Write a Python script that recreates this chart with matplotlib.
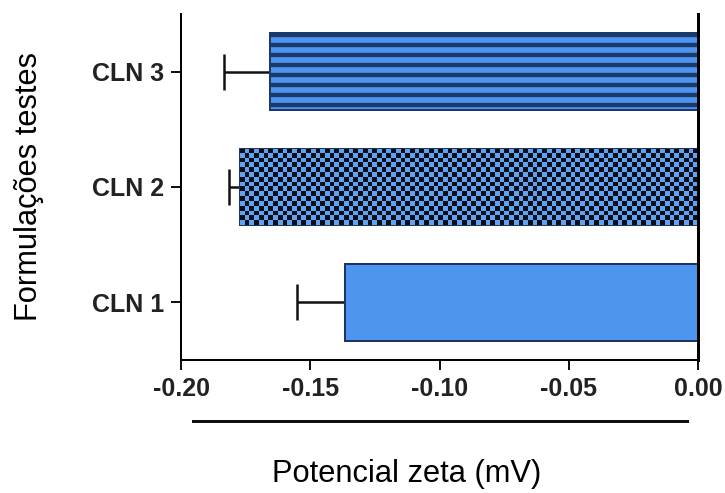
# Potencial zeta das formulações CLN (barras horizontais com erro)

import numpy as np
import matplotlib
matplotlib.use('Agg')
import matplotlib.pyplot as plt

categorias = ['CLN 1', 'CLN 2', 'CLN 3']
zeta = [-0.1364, -0.1771, -0.1655]      # mV
erro = [0.0186, 0.0043, 0.0178]
x_ticks = [-0.20, -0.15, -0.10, -0.05, 0.00]

plt.rcParams['font.family'] = ['Liberation Sans', 'DejaVu Sans']
plt.rcParams['hatch.linewidth'] = 2.6

azul = '#4d95ef'
borda = '#1e3560'

fig = plt.figure(figsize=(725 / 120, 493 / 120), dpi=120)
ax = fig.add_axes([0.2497, 0.2698, 0.7131, 0.7018])

y = np.arange(1, len(categorias) + 1)

# barras de erro so para o lado negativo
ax.errorbar(zeta, y, xerr=[erro, [0] * len(erro)], fmt='none', ecolor='#111111',
            elinewidth=1.5, capsize=11, capthick=1.5, zorder=2)

bars = ax.barh(y, zeta, height=0.667, color=azul, edgecolor=borda, linewidth=1.2, zorder=3)

# CLN 3 - listras horizontais
bars[2].set_hatch('--')
bars[2].set_edgecolor('#1b3a6b')

# CLN 2 - xadrez
b = bars[1]
nx, ny = 97, 16
xadrez = (np.indices((ny, nx)).sum(axis=0) % 2)
cmap = matplotlib.colors.ListedColormap(['#0b0d18', '#5ea2f2'])
im = ax.imshow(xadrez, cmap=cmap, aspect='auto', interpolation='nearest',
               extent=[b.get_x(), b.get_x() + b.get_width(), b.get_y(), b.get_y() + b.get_height()],
               zorder=3.5)
im.set_clip_path(b)

ax.set_xlim(-0.20, 0.0)
ax.set_ylim(0.5, 3.5)
ax.set_xticks(x_ticks)
ax.set_xticklabels([f'{v:.2f}' for v in x_ticks])
ax.set_yticks(y)
ax.set_yticklabels(categorias)

for lab in ax.get_xticklabels() + ax.get_yticklabels():
    lab.set_fontweight('bold')
    lab.set_fontsize(15)
    lab.set_color('#222222')

ax.tick_params(axis='both', direction='out', length=6, width=1.2, color='#111111', pad=4)
ax.spines['top'].set_visible(False)
ax.spines['left'].set_linewidth(1.2)
ax.spines['bottom'].set_linewidth(1.2)
ax.spines['right'].set_linewidth(1.8)
ax.spines['right'].set_zorder(5)

ax.set_xlabel('Potencial zeta (mV)', fontsize=18.5)
ax.xaxis.set_label_coords(0.436, -0.285)
ax.set_ylabel('Formulações testes', fontsize=18.5)
ax.yaxis.set_label_coords(-0.265, 0.5)

# linha decorativa abaixo do eixo x
ax.plot([0.023, 0.979], [-0.176, -0.176], color='#111111', lw=1.8,
        transform=ax.transAxes, clip_on=False)

fig.savefig('out.png', dpi=120)
